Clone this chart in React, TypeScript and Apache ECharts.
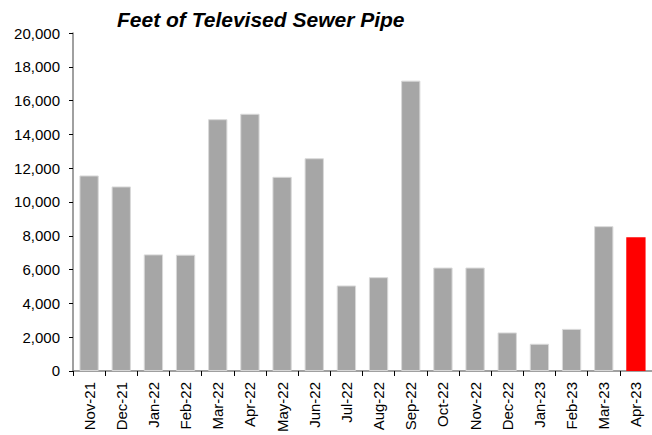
import React, { useEffect, useRef } from "react";
import * as echarts from "echarts";

const categories = [
  "Nov-21", "Dec-21", "Jan-22", "Feb-22", "Mar-22", "Apr-22", "May-22", "Jun-22", "Jul-22",
  "Aug-22", "Sep-22", "Oct-22", "Nov-22", "Dec-22", "Jan-23", "Feb-23", "Mar-23", "Apr-23",
];
const feet = [
  11570, 10920, 6900, 6880, 14900, 15220, 11490, 12590, 5060,
  5550, 17180, 6120, 6120, 2280, 1610, 2490, 8570, 7920,
];
const titleText = "Feet of Televised Sewer Pipe";

export default function App() {
  const ref = useRef<HTMLDivElement>(null);
  useEffect(() => {
    if (!ref.current) return;
    const chart = echarts.init(ref.current, undefined, { renderer: "svg" });
    const last = feet.length - 1;
    chart.setOption({
      animation: false,
      title: {
        text: titleText,
        left: 117,
        top: 9,
        padding: 0,
        textStyle: {
          fontFamily: "Liberation Sans, Arial, sans-serif",
          fontSize: 21,
          fontWeight: "bold",
          fontStyle: "italic",
          color: "#000",
        },
      },
      grid: { left: 73, right: 0, top: 33, bottom: 62, containLabel: false },
      xAxis: {
        type: "category",
        data: categories,
        axisLine: { lineStyle: { color: "#808080", width: 1.5 } },
        axisTick: { show: true, alignWithLabel: false, length: 5, lineStyle: { color: "#000" } },
        axisLabel: {
          rotate: 90,
          margin: 11,
          fontSize: 15,
          color: "#000",
          fontFamily: "Liberation Sans, Arial, sans-serif",
          interval: 0,
        },
        splitLine: { show: false },
      },
      yAxis: {
        type: "value",
        min: 0,
        max: 20000,
        interval: 2000,
        axisLine: { show: true, lineStyle: { color: "#808080", width: 1.5 } },
        axisTick: { show: true, length: 4, lineStyle: { color: "#000" } },
        axisLabel: {
          margin: 13,
          fontSize: 15,
          color: "#000",
          fontFamily: "Liberation Sans, Arial, sans-serif",
          formatter: (v: number) => v.toLocaleString("en-US"),
        },
        splitLine: { show: false },
      },
      series: [
        {
          type: "bar",
          barWidth: "60%",
          data: feet.map((v, i) => ({
            value: v,
            itemStyle:
              i === last
                ? { color: "#FF0000", borderWidth: 0 }
                : { color: "#A6A6A6", borderColor: "#D9D9D9", borderWidth: 1 },
          })),
        },
      ],
    });
    return () => chart.dispose();
  }, []);
  return <div ref={ref} style={{ width: 652, height: 435, position: "absolute", left: 0, top: 0 }} />;
}
